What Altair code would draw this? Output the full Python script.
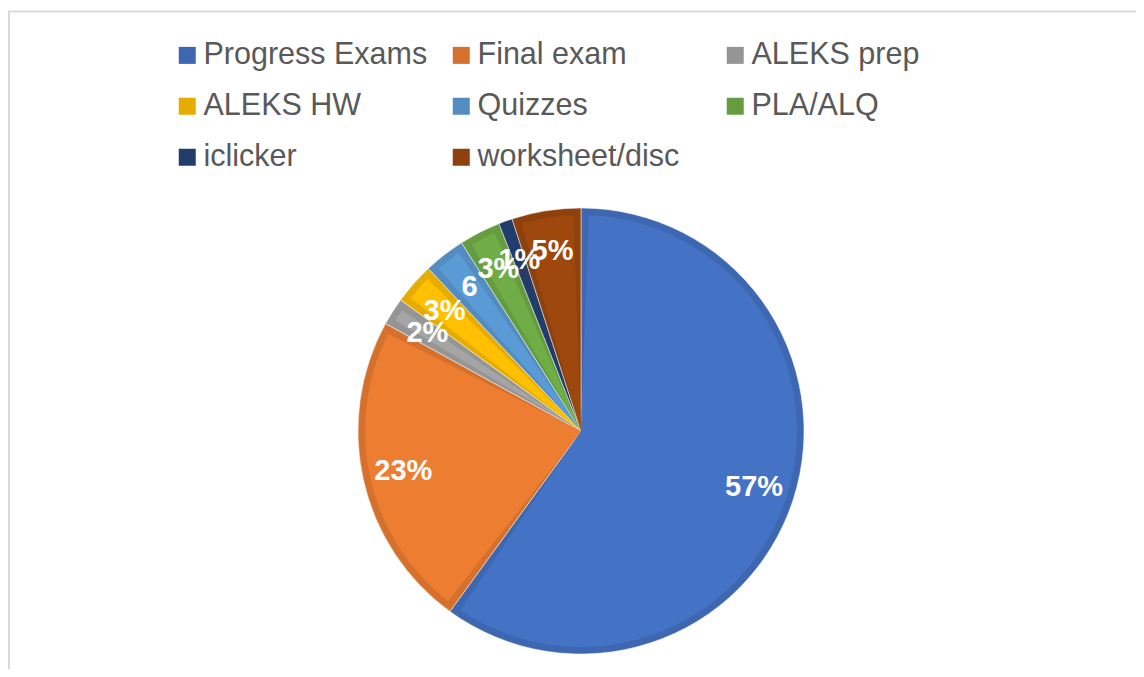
import altair as alt
import pandas as pd

# ---- data ----
categories = ["Progress Exams", "Final exam", "ALEKS prep", "ALEKS HW",
              "Quizzes", "PLA/ALQ", "iclicker", "worksheet/disc"]
values = [60, 23, 2, 3, 3, 3, 1, 5]          # slice sizes as drawn
labels = ["57%", "23%", "2%", "3%", "6", "3%", "1%", "5%"]  # printed labels

fill_colors = ["#4472C4", "#ED7D31", "#A5A5A5", "#FFC000",
               "#5B9BD5", "#70AD47", "#264478", "#9E480E"]
edge_colors = ["#3D67B0", "#D5712C", "#959595", "#E6AD00",
               "#528CC0", "#659C40", "#223D6C", "#8E410D"]

df = pd.DataFrame({
    "category": categories,
    "value": values,
    "label": labels,
    "idx": list(range(len(categories))),
    "fill": fill_colors,
})

FONT = "Liberation Sans"
VW, VH = 1110, 476
PAD_L, PAD_T = 18, 185

base = alt.Chart(df).encode(
    theta=alt.Theta("value:Q", stack=True),
    order=alt.Order("idx:Q"),
)

outer = base.mark_arc(outerRadius=223, stroke="#ffffff", strokeWidth=0.8,
                      strokeOpacity=0.6).encode(
    color=alt.Color(
        "category:N",
        sort=categories,
        scale=alt.Scale(domain=categories, range=edge_colors),
        legend=alt.Legend(
            title=None,
            orient="none",
            direction="horizontal",
            legendX=146,
            legendY=-153,
            columns=3,
            gridAlign="all",
            columnPadding=18,
            rowPadding=20,
            symbolType="square",
            symbolSize=289,
            symbolStrokeWidth=0,
            labelFont=FONT,
            labelFontSize=30.5,
            labelColor="#595959",
            labelOffset=1,
            labelLimit=400,
            padding=0,
        ),
    )
)

inner = base.mark_arc(outerRadius=216, padAngle=0.07).encode(
    fill=alt.Fill("fill:N", scale=None, legend=None)
)

text = base.mark_text(radius=182, font=FONT, fontSize=29, fontWeight="bold",
                      color="#ffffff").encode(text="label:N")

frame_df = pd.DataFrame({"k": [0]})
top_line = alt.Chart(frame_df).mark_rule(color="#d9d9d9", strokeWidth=2).encode(
    x=alt.value(-PAD_L), x2=alt.value(VW), y=alt.value(-181.5)
)
left_line = alt.Chart(frame_df).mark_rule(color="#d9d9d9", strokeWidth=2).encode(
    x=alt.value(-17), y=alt.value(-181.5), y2=alt.value(VH)
)

chart = alt.layer(top_line, left_line, outer, inner, text).properties(
    width=VW,
    height=VH,
    autosize=alt.AutoSizeParams(type="none"),
    padding={"left": PAD_L, "top": PAD_T, "right": 0, "bottom": 0},
    background="#ffffff",
).configure_view(stroke=None)

chart.save("out.html", embed_options={"renderer": "svg", "actions": False})
